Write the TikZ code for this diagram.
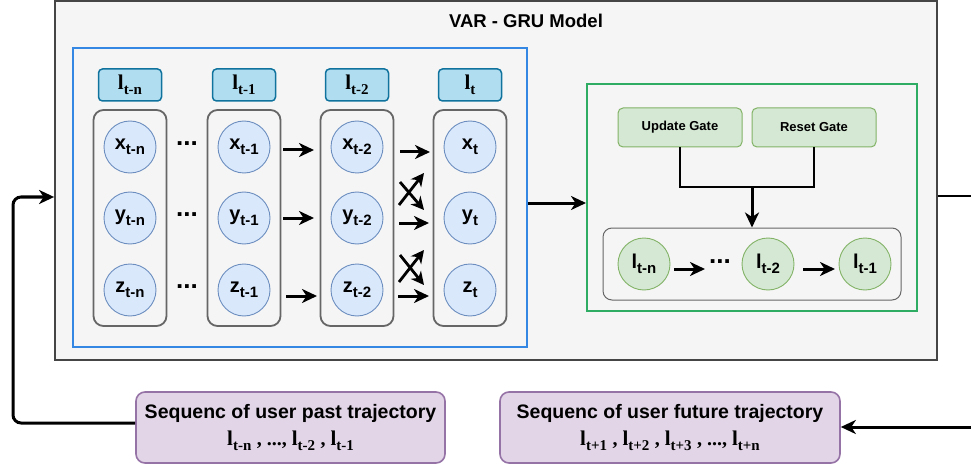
\documentclass[tikz,border=0pt]{standalone}
\usepackage{fontspec}
\setmainfont{Liberation Sans}
\newfontfamily\serifb{Liberation Serif}
\usetikzlibrary{arrows.meta}

\definecolor{panel}{HTML}{F5F5F5}
\definecolor{outerline}{HTML}{454545}
\definecolor{varline}{RGB}{52,136,228}
\definecolor{gruline}{RGB}{46,172,100}
\definecolor{cellfill}{HTML}{DAE8FC}
\definecolor{cellline}{HTML}{6C8EBF}
\definecolor{headfill}{HTML}{B1DDF0}
\definecolor{headline}{HTML}{10739E}
\definecolor{gatefill}{HTML}{D5E8D4}
\definecolor{gateline}{HTML}{82B366}
\definecolor{seqfill}{HTML}{E1D5E7}
\definecolor{seqline}{HTML}{9673A6}
\definecolor{colline}{HTML}{666666}

% sans variable with subscript
\newcommand\sv[2]{{\fontsize{20}{20}\selectfont\bfseries #1}\raisebox{-4.5pt}{\fontsize{15}{15}\selectfont\bfseries #2}}
% serif location symbol with subscript
\newcommand\hv[2]{{\serifb\bfseries\fontsize{21}{21}\selectfont #1}\raisebox{-4.5pt}{\serifb\bfseries\fontsize{15}{15}\selectfont #2}}
% three bold dots
\newcommand\dotsb{{\fontsize{26}{26}\selectfont\bfseries ...}}

\tikzset{
  arr/.style={line width=3pt,-{Stealth[length=15pt,width=14pt,inset=4.5pt]}},
  xarr/.style={line width=2.8pt,-{Stealth[length=13pt,width=13pt,inset=4pt]}},
  link/.style={line width=2.8pt},
  cell/.style={circle,minimum size=52pt,inner sep=0pt,fill=cellfill,draw=cellline,line width=0.9pt},
  gcell/.style={circle,minimum size=52pt,inner sep=0pt,fill=gatefill,draw=gateline,line width=0.9pt},
  headbox/.style={rectangle,rounded corners=4pt,minimum width=63pt,minimum height=32pt,inner sep=0pt,fill=headfill,draw=headline,line width=1.5pt},
  colbox/.style={rectangle,rounded corners=10pt,minimum width=73pt,minimum height=216pt,inner sep=0pt,fill=panel,draw=colline,line width=1.8pt},
  gatebox/.style={rectangle,rounded corners=5pt,minimum width=124pt,minimum height=39pt,inner sep=0pt,fill=gatefill,draw=gateline,line width=1pt,font=\fontsize{13}{13}\selectfont\bfseries},
  seqbox/.style={rectangle,rounded corners=9pt,minimum height=71pt,inner sep=0pt,fill=seqfill,draw=seqline,line width=1.6pt,align=center,font=\fontsize{19.5}{27}\selectfont},
}

\begin{document}
\begin{tikzpicture}[x=1pt,y=-1pt]
\useasboundingbox (0,0) rectangle (971,465);

% outer model frame
\node[rectangle,draw=outerline,fill=panel,line width=1.8pt,minimum width=882pt,minimum height=359pt,inner sep=0pt] (outer) at (496,180.5) {};
\node[font=\fontsize{18.5}{18.5}\selectfont\bfseries] (title) at (526,21) {VAR - GRU Model};

% VAR block
\node[rectangle,draw=varline,line width=2pt,minimum width=454pt,minimum height=299pt,inner sep=0pt] (var) at (300,197.5) {};

\foreach \n/\x in {A/130,B/244,C/357,D/470}{
  \node[colbox] (col\n) at (\x,218) {};
}
\node[headbox] (hA) at (130,85) {\hv{l}{t-n}};
\node[headbox] (hB) at (244,85) {\hv{l}{t-1}};
\node[headbox] (hC) at (357,85) {\hv{l}{t-2}};
\node[headbox] (hD) at (470,85) {\hv{l}{t}};

\node[cell] (xA) at (130,147) {\sv{x}{t-n}};
\node[cell] (yA) at (130,218) {\sv{y}{t-n}};
\node[cell] (zA) at (130,290) {\sv{z}{t-n}};
\node[cell] (xB) at (244,147) {\sv{x}{t-1}};
\node[cell] (yB) at (244,218) {\sv{y}{t-1}};
\node[cell] (zB) at (244,290) {\sv{z}{t-1}};
\node[cell] (xC) at (357,147) {\sv{x}{t-2}};
\node[cell] (yC) at (357,218) {\sv{y}{t-2}};
\node[cell] (zC) at (357,290) {\sv{z}{t-2}};
\node[cell] (xD) at (470,147) {\sv{x}{t}};
\node[cell] (yD) at (470,218) {\sv{y}{t}};
\node[cell] (zD) at (470,290) {\sv{z}{t}};

\node (dx) at (187,144) {\dotsb};
\node (dy) at (187,215) {\dotsb};
\node (dz) at (187,287) {\dotsb};

% lag arrows between columns
\coordinate (bx1) at (283,150); \coordinate (bx2) at (314,150);
\coordinate (by1) at (283,218); \coordinate (by2) at (314,218);
\coordinate (bz1) at (286,296); \coordinate (bz2) at (317,296);
\draw[arr] (bx1) -- (bx2);
\draw[arr] (by1) -- (by2);
\draw[arr] (bz1) -- (bz2);

\coordinate (cx1) at (400,152); \coordinate (cx2) at (430,152);
\coordinate (cy1) at (399,223); \coordinate (cy2) at (429,223);
\coordinate (cz1) at (398,296); \coordinate (cz2) at (429,296);
\draw[arr] (cx1) -- (cx2);
\draw[arr] (cy1) -- (cy2);
\draw[arr] (cz1) -- (cz2);

% crossed cross-variable arrows
\coordinate (k1a) at (399,205); \coordinate (k1b) at (424,173);
\coordinate (k2a) at (400,182); \coordinate (k2b) at (424,210);
\coordinate (k3a) at (399,282); \coordinate (k3b) at (424,250);
\coordinate (k4a) at (400,255); \coordinate (k4b) at (424,285);
\draw[xarr] (k1a) -- (k1b);
\draw[xarr] (k2a) -- (k2b);
\draw[xarr] (k3a) -- (k3b);
\draw[xarr] (k4a) -- (k4b);

% GRU block
\node[rectangle,draw=gruline,line width=2pt,minimum width=330pt,minimum height=227pt,inner sep=0pt] (gru) at (752,197.5) {};
\draw[arr] (var.east |- 0,203) -- (gru.west |- 0,203);

\node[gatebox] (upd) at (680,127.5) {Update Gate};
\node[gatebox] (rst) at (814,127.5) {Reset Gate};
\node[rectangle,rounded corners=9pt,draw=colline,fill=panel,line width=1pt,minimum width=298pt,minimum height=72pt,inner sep=0pt] (seq) at (752,264) {};
\coordinate (join) at (752,187);
\draw[link] (upd.south) |- (join) -| (rst.south);
\draw[arr] (join) -- (seq.north);

\node[gcell] (g1) at (644,264) {\sv{l}{t-n}};
\node[gcell] (g2) at (768,264) {\sv{l}{t-2}};
\node[gcell] (g3) at (865,264) {\sv{l}{t-1}};
\node (gd) at (720,262) {\dotsb};
\coordinate (ga1) at (674,269); \coordinate (ga2) at (705,269);
\coordinate (gb1) at (803,269); \coordinate (gb2) at (835,269);
\draw[arr] (ga1) -- (ga2);
\draw[arr] (gb1) -- (gb2);

% input and output sequences
\node[seqbox,minimum width=309pt] (past) at (290.5,427.5)
  {\bfseries Sequenc of user past trajectory\\
   \hv{l}{t-n} {\serifb\bfseries\fontsize{20}{20}\selectfont , ..., }\hv{l}{t-2} {\serifb\bfseries\fontsize{20}{20}\selectfont , }\hv{l}{t-1}};
\node[seqbox,minimum width=340pt] (future) at (670,427.5)
  {\bfseries Sequenc of user future trajectory\\
   \hv{l}{t+1} {\serifb\bfseries\fontsize{20}{20}\selectfont , }\hv{l}{t+2} {\serifb\bfseries\fontsize{20}{20}\selectfont , }\hv{l}{t+3} {\serifb\bfseries\fontsize{20}{20}\selectfont , ..., }\hv{l}{t+n}};

\coordinate (loopL) at (13,423);
\coordinate (outR) at (971,196);
\coordinate (inR) at (971,427);
\draw[arr,rounded corners=8pt] (past.west |- 0,423) -- (loopL) |- (outer.west |- 0,197);
\draw[link] (outer.east |- 0,196) -- (outR);
\draw[arr] (inR) -- (future.east |- 0,427);
\end{tikzpicture}
\end{document}
